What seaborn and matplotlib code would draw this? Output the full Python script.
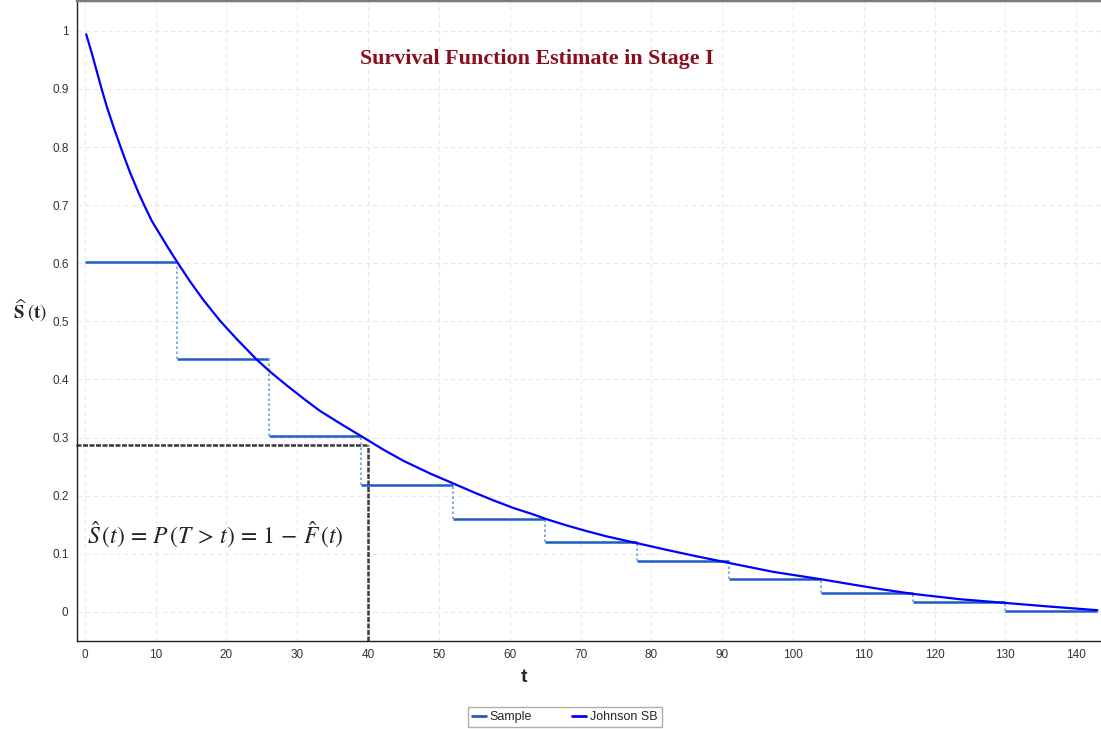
#!/usr/bin/env python3
import matplotlib
matplotlib.use("Agg")
import matplotlib.pyplot as plt
import numpy as np
import pandas as pd
import seaborn as sns

from matplotlib.axes import Axes
from matplotlib.lines import Line2D
from matplotlib.ticker import AutoMinorLocator, FuncFormatter

# Johnson SB fitted survival curve
curve_t = [0.2, 1.0, 1.7, 2.4, 3.1, 4.1, 4.8, 5.5, 6.4, 7.6, 8.5, 9.5, 10.7, 11.8,
           13.0, 14.9, 16.8, 19.1, 21.5, 24.3, 26.2, 28.5, 30.9, 33.2, 36.5, 39.1,
           42.2, 45.0, 48.8, 51.1, 54.9, 57.7, 60.5, 63.3, 65.1, 68.0, 70.9, 73.7,
           78.1, 82.1, 85.9, 91.1, 97.2, 104.1, 108.0, 112.5, 117.0, 123.5, 130.0,
           136.5, 143.0]
curve_s = [0.994, 0.961, 0.930, 0.899, 0.870, 0.833, 0.809, 0.785, 0.756, 0.721,
           0.697, 0.672, 0.648, 0.626, 0.603, 0.568, 0.536, 0.501, 0.469, 0.434,
           0.413, 0.390, 0.367, 0.346, 0.321, 0.302, 0.279, 0.260, 0.238, 0.226,
           0.206, 0.192, 0.179, 0.168, 0.160, 0.149, 0.139, 0.130, 0.118, 0.107,
           0.097, 0.084, 0.069, 0.056, 0.048, 0.039, 0.031, 0.022, 0.0155, 0.009,
           0.003]

# sample (empirical) step function
step_t = [0, 13, 26, 39, 52, 65, 78, 91, 104, 117, 130, 143]
step_s = [0.602, 0.436, 0.303, 0.218, 0.160, 0.120, 0.087, 0.057, 0.032, 0.0165, 0.002]

# reference lines at t = 40
ref_t = 40
ref_s = 0.287

SAMPLE_COLOR = "#1f5cc4"
SAMPLE_DROP = "#6f9ee0"
FIT_COLOR = "#0000ff"
REF_COLOR = "#3a3a3a"

sns.set_style("white")
plt.rcParams["font.family"] = ["Liberation Sans", "DejaVu Sans"]
plt.rcParams["mathtext.fontset"] = "stix"

fig = plt.figure(figsize=(11.01, 7.29), dpi=100)
ax: Axes = fig.add_axes([77 / 1101, 88 / 729, 1024 / 1101, 641 / 729])

df = pd.DataFrame({"t": curve_t, "S": curve_s})

ax.grid(True, which="major", color="#e8e8e8", linestyle=(0, (4, 3)), linewidth=0.8)
ax.set_axisbelow(True)

# sample steps: solid horizontals, dotted drops
ax.hlines(step_s, step_t[:-1], step_t[1:], color=SAMPLE_COLOR, linewidth=1.8, zorder=3)
ax.vlines(step_t[1:-1], step_s[1:], step_s[:-1], color=SAMPLE_DROP,
          linestyle=(0, (1.5, 1.5)), linewidth=1.2, zorder=3)

sns.lineplot(data=df, x="t", y="S", color=FIT_COLOR, linewidth=1.6, sort=False,
             estimator=None, ax=ax, zorder=4)

# reference lines
ax.plot([-1.2, ref_t], [ref_s, ref_s], color=REF_COLOR, linewidth=1.8,
        linestyle=(0, (2, 0.6)), zorder=2, clip_on=False)
ax.plot([ref_t, ref_t], [-0.05, ref_s], color=REF_COLOR, linewidth=1.8,
        linestyle=(0, (2, 0.6)), zorder=2, clip_on=False)

ax.set_xlim(-1.1, 143.5)
ax.set_ylim(-0.05, 1.053)
ax.set_xticks(np.arange(0, 141, 10))
ax.set_yticks(np.arange(0, 1.01, 0.1))
ax.xaxis.set_minor_locator(AutoMinorLocator(4))
ax.yaxis.set_minor_locator(AutoMinorLocator(5))
ax.yaxis.set_major_formatter(FuncFormatter(lambda v, p: f"{round(v, 2):g}"))

ax.tick_params(axis="both", which="major", direction="out", length=3.6, width=0.8,
               labelsize=8.5, labelcolor="#333333", color="#333333", pad=2.5)
ax.tick_params(axis="both", which="minor", direction="out", length=2, width=0.8,
               color="#333333")

for side in ["left", "bottom"]:
    ax.spines[side].set_color("#222222")
    ax.spines[side].set_linewidth(1.0)
ax.spines["right"].set_visible(False)
ax.spines["top"].set_color("#7a7a7a")
ax.spines["top"].set_linewidth(2.5)

ax.set_xlabel("t", fontsize=14, fontweight="bold")
ax.xaxis.set_label_coords(0.4365, -0.057)
ax.xaxis.label.set_verticalalignment("center")

ax.set_ylabel(r"$\widehat{\mathbf{S}}\;(\mathbf{t})$", fontsize=13.5, rotation=0,
              ha="center", va="center")
ax.yaxis.set_label_coords(-0.046, 0.515)

ax.text(0.449, 0.908, "Survival Function Estimate in Stage I", transform=ax.transAxes,
        ha="center", va="center", fontsize=15.8, fontweight="bold",
        color="#8b0e1e", family=["Liberation Serif", "DejaVu Serif"])

ax.text(0.135, 0.165, r"$\hat{S}\,(t) \,=\, P\,(T \,>\, t) \,=\, 1 \,-\, \hat{F}\,(t)$",
        transform=ax.transAxes, ha="center", va="center", fontsize=17, color="#222222")

handles = [Line2D([0], [0], color=SAMPLE_COLOR, linewidth=2),
           Line2D([0], [0], color=FIT_COLOR, linewidth=2)]
fig.legend(handles, ["Sample", "Johnson SB"], loc="center", bbox_to_anchor=(0.513, 0.0165),
           ncol=2, fontsize=9, frameon=True, fancybox=False, edgecolor="#999999",
           handlelength=1.1, handletextpad=0.3, columnspacing=3.2, borderpad=0.35)

fig.savefig("out.png", dpi=100)
